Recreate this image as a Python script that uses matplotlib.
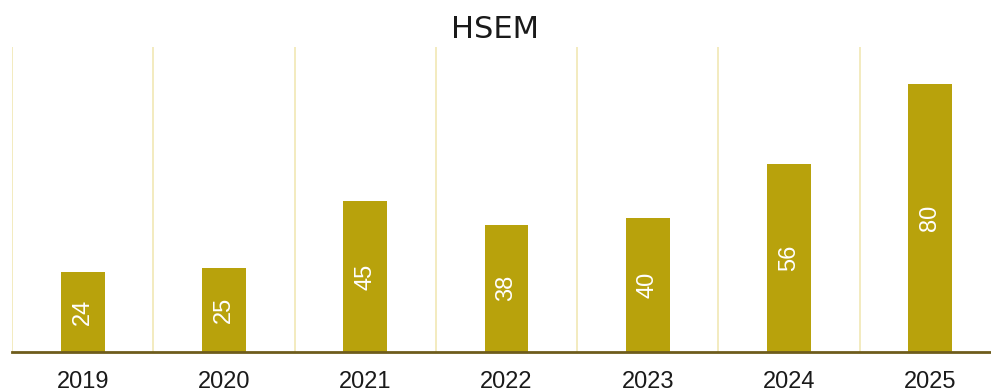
import matplotlib
matplotlib.use("Agg")
import matplotlib.pyplot as plt

years = ["2019", "2020", "2021", "2022", "2023", "2024", "2025"]
values = [24, 25, 45, 38, 40, 56, 80]
title = "HSEM"

W, H = 991, 392
fig = plt.figure(figsize=(W / 100, H / 100), dpi=100)
left, right = 12, 1001
bottom, top = 352, 47
ax = fig.add_axes([left / W, (H - bottom) / H, (right - left) / W, (bottom - top) / H])

x = list(range(len(years)))
bars = ax.bar(x, values, width=0.31, color="#b8a20c", zorder=2)
ax.set_xlim(-0.5, len(years) - 0.5)
ax.set_ylim(0, 91)

for xi, v in zip(x, values):
    ax.text(xi, v / 2, str(v), rotation=90, ha="center", va="center",
            color="white", fontsize=17, family="Liberation Sans", zorder=3)

for b in [i - 0.5 for i in range(len(years) + 1)]:
    ax.axvline(b, color="#f1e8b4", lw=1.2, zorder=1)

for s in ["top", "right", "left"]:
    ax.spines[s].set_visible(False)
ax.spines["bottom"].set_color("#6e5c1c")
ax.spines["bottom"].set_linewidth(2)
ax.set_yticks([])
ax.set_xticks(x)
ax.set_xticklabels(years, family="Liberation Sans", fontsize=17, color="#1a1a1a")
ax.tick_params(axis="x", length=0, pad=14)

fig.text(495 / W, 1 - 30 / H, title, ha="center", va="center", fontsize=22,
         family="DejaVu Sans", color="#1a1a1a")

fig.savefig("out.png", dpi=100)
